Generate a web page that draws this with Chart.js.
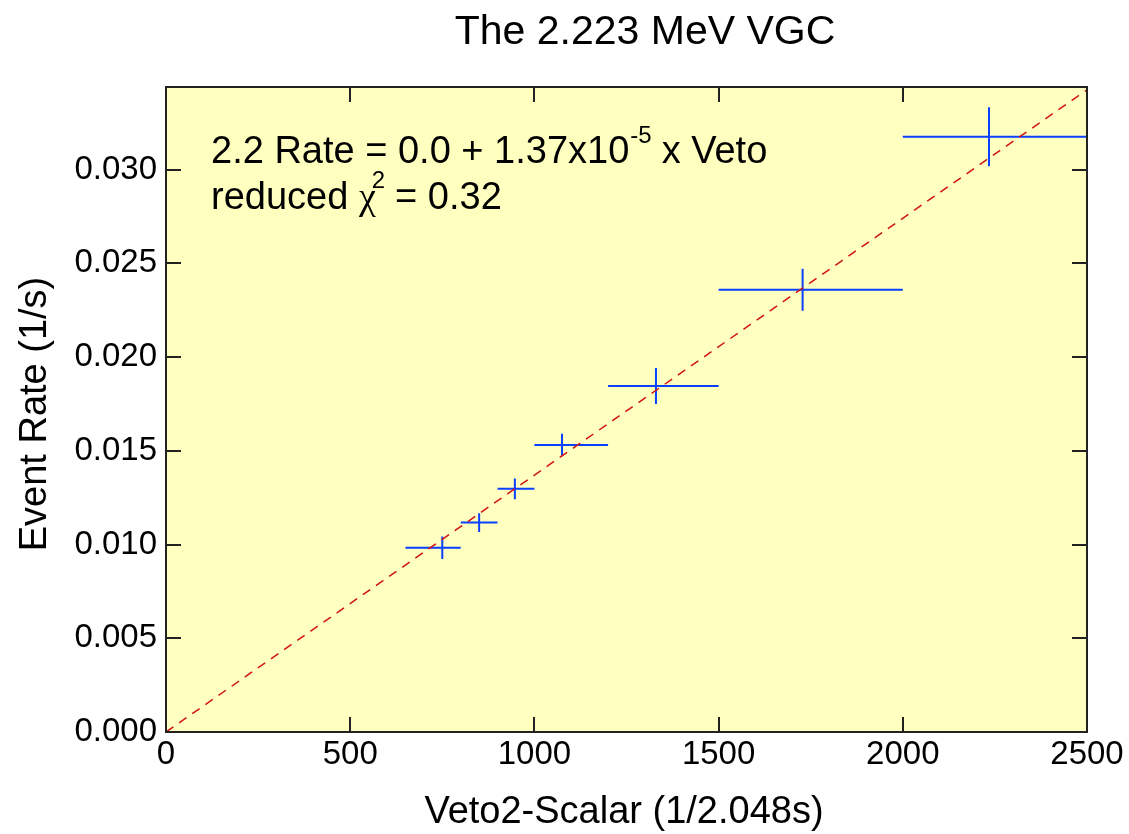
<!DOCTYPE html>
<html>
<head>
<meta charset="utf-8">
<title>The 2.223 MeV VGC</title>
<script src="https://cdn.jsdelivr.net/npm/chart.js@4.4.1/dist/chart.umd.min.js"></script>
<style>
	html, body { margin: 0; padding: 0; background: #ffffff; }
	#vgc_chart { display: block; }
</style>
</head>
<body>
<canvas id="vgc_chart" width="1129" height="834"></canvas>
<script>
// veto-scalar bins (1/2.048s) and measured 2.2 MeV event rate (1/s)
const vetoCenter = [750, 850, 947, 1075, 1330, 1728, 2234];
const vetoLow = [650, 800, 900, 1000, 1200, 1500, 2000];
const vetoHigh = [800, 900, 1000, 1200, 1500, 2000, 2500];
const eventRate = [0.00983, 0.01117, 0.01297, 0.01531, 0.01845, 0.02359, 0.03175];
const eventRateErr = [0.0006, 0.0005, 0.00055, 0.0006, 0.00096, 0.00112, 0.00157];

// linear fit: rate = intercept + slope * veto
const fitIntercept = 0.0;
const fitSlope = 1.37e-5;
const fitRange = [0, 2500];

const xTickValues = [0, 500, 1000, 1500, 2000, 2500];
const yTickValues = [0.000, 0.005, 0.010, 0.015, 0.020, 0.025, 0.030];

const SANS = '"Liberation Sans", Arial, Helvetica, sans-serif';
const SERIF = '"Liberation Serif", "Times New Roman", serif';
const PLOT_BG = "#ffffc0";
const BAR_COLOR = "#0a40ff";
const FIT_COLOR = "#d01414";
const TICK_LEN = 15;

const plotBackground = {
	id: "plotBackground",
	beforeDraw(chart) {
		const { ctx, chartArea } = chart;
		ctx.save();
		ctx.fillStyle = PLOT_BG;
		ctx.fillRect(chartArea.left, chartArea.top, chartArea.right - chartArea.left, chartArea.bottom - chartArea.top);
		ctx.restore();
	}
};

// crosses: horizontal = bin width, vertical = rate error
const errorBars = {
	id: "errorBars",
	beforeDatasetsDraw(chart) {
		const { ctx, chartArea, scales } = chart;
		const x = scales.x, y = scales.y;
		ctx.save();
		ctx.beginPath();
		ctx.rect(chartArea.left, chartArea.top, chartArea.right - chartArea.left, chartArea.bottom - chartArea.top);
		ctx.clip();
		ctx.strokeStyle = BAR_COLOR;
		ctx.lineWidth = 2;
		for (let i = 0; i < vetoCenter.length; i++) {
			const py = y.getPixelForValue(eventRate[i]);
			const px = x.getPixelForValue(vetoCenter[i]);
			ctx.beginPath();
			ctx.moveTo(x.getPixelForValue(vetoLow[i]), py);
			ctx.lineTo(x.getPixelForValue(vetoHigh[i]), py);
			ctx.moveTo(px, y.getPixelForValue(eventRate[i] - eventRateErr[i]));
			ctx.lineTo(px, y.getPixelForValue(eventRate[i] + eventRateErr[i]));
			ctx.stroke();
		}
		ctx.restore();
	}
};

// box frame with inward ticks on all four sides
const frameTicks = {
	id: "frameTicks",
	afterDraw(chart) {
		const { ctx, chartArea, scales } = chart;
		const { left, right, top, bottom } = chartArea;
		ctx.save();
		ctx.strokeStyle = "#222222";
		ctx.lineWidth = 2;
		ctx.beginPath();
		xTickValues.forEach(v => {
			const px = Math.round(scales.x.getPixelForValue(v));
			ctx.moveTo(px, bottom); ctx.lineTo(px, bottom - TICK_LEN);
			ctx.moveTo(px, top); ctx.lineTo(px, top + TICK_LEN);
		});
		yTickValues.forEach(v => {
			const py = Math.round(scales.y.getPixelForValue(v));
			ctx.moveTo(left, py); ctx.lineTo(left + TICK_LEN, py);
			ctx.moveTo(right, py); ctx.lineTo(right - TICK_LEN, py);
		});
		ctx.stroke();
		ctx.strokeRect(left, top, right - left, bottom - top);
		ctx.restore();
	}
};

const chartTexts = {
	id: "chartTexts",
	afterDraw(chart) {
		const { ctx } = chart;
		ctx.save();
		ctx.fillStyle = "#000000";

		// title
		ctx.font = `41px ${SANS}`;
		ctx.textAlign = "center";
		ctx.textBaseline = "alphabetic";
		ctx.fillText("The 2.223 MeV VGC", 645, 44);

		// axis titles
		ctx.font = `38px ${SANS}`;
		ctx.fillText("Veto2-Scalar (1/2.048s)", 624, 823);
		ctx.save();
		ctx.translate(46, 414);
		ctx.rotate(-Math.PI / 2);
		ctx.fillText("Event Rate (1/s)", 0, 0);
		ctx.restore();

		// fit annotation
		ctx.textAlign = "left";
		let cx = 211;
		const line1 = 163;
		ctx.font = `38px ${SANS}`;
		const head = `2.2 Rate = ${fitIntercept.toFixed(1)} + 1.37x10`;
		ctx.fillText(head, cx, line1);
		cx += ctx.measureText(head).width + 1;
		ctx.font = `24px ${SANS}`;
		ctx.fillText("-5", cx, line1 - 20);
		cx += ctx.measureText("-5").width + 10;
		ctx.font = `38px ${SANS}`;
		ctx.fillText("x Veto", cx, line1);

		const line2 = 209;
		cx = 211;
		ctx.fillText("reduced ", cx, line2);
		cx += ctx.measureText("reduced ").width;
		ctx.font = `38px ${SERIF}`;
		ctx.fillText("\u03c7", cx, line2);
		cx += ctx.measureText("\u03c7").width;
		ctx.font = `24px ${SANS}`;
		ctx.fillText("2", cx - 4, line2 - 21);
		cx += ctx.measureText("2").width + 6;
		ctx.font = `38px ${SANS}`;
		ctx.fillText("= 0.32", cx, line2);
		ctx.restore();
	}
};

const ctx = document.getElementById("vgc_chart");
// eslint-disable-next-line no-undef
const vgcChart = new Chart(ctx, {
	type: "scatter",
	data: {
		datasets: [{
			label: "fit",
			type: "line",
			data: fitRange.map(v => ({ x: v, y: fitIntercept + fitSlope * v })),
			borderColor: FIT_COLOR,
			borderWidth: 1.5,
			borderDash: [9, 7],
			pointRadius: 0,
			fill: false,
			tension: 0
		}, {
			label: "rate",
			data: vetoCenter.map((v, i) => ({ x: v, y: eventRate[i] })),
			pointRadius: 0,
			showLine: false
		}]
	},
	options: {
		responsive: false,
		animation: false,
		devicePixelRatio: 1,
		layout: { padding: { top: 87, right: 42, left: 0, bottom: 0 } },
		plugins: {
			legend: { display: false },
			title: { display: false },
			tooltip: { enabled: false }
		},
		scales: {
			x: {
				type: "linear",
				min: 0,
				max: 2500,
				afterFit: (scale) => { scale.height = 102; },
				afterBuildTicks: (scale) => { scale.ticks = xTickValues.map(v => ({ value: v })); },
				grid: { display: false, drawTicks: false },
				border: { display: false },
				ticks: {
					padding: 3,
					color: "#000000",
					font: { family: SANS, size: 33 },
					maxRotation: 0,
					callback: (v) => String(v)
				}
			},
			y: {
				type: "linear",
				min: 0,
				max: 0.0344,
				afterFit: (scale) => { scale.width = 166; },
				afterBuildTicks: (scale) => { scale.ticks = yTickValues.map(v => ({ value: v })); },
				grid: { display: false, drawTicks: false },
				border: { display: false },
				ticks: {
					padding: 9,
					color: "#000000",
					font: { family: SANS, size: 33 },
					callback: (v) => Number(v).toFixed(3)
				}
			}
		}
	},
	plugins: [plotBackground, errorBars, frameTicks, chartTexts]
});
</script>
</body>
</html>
